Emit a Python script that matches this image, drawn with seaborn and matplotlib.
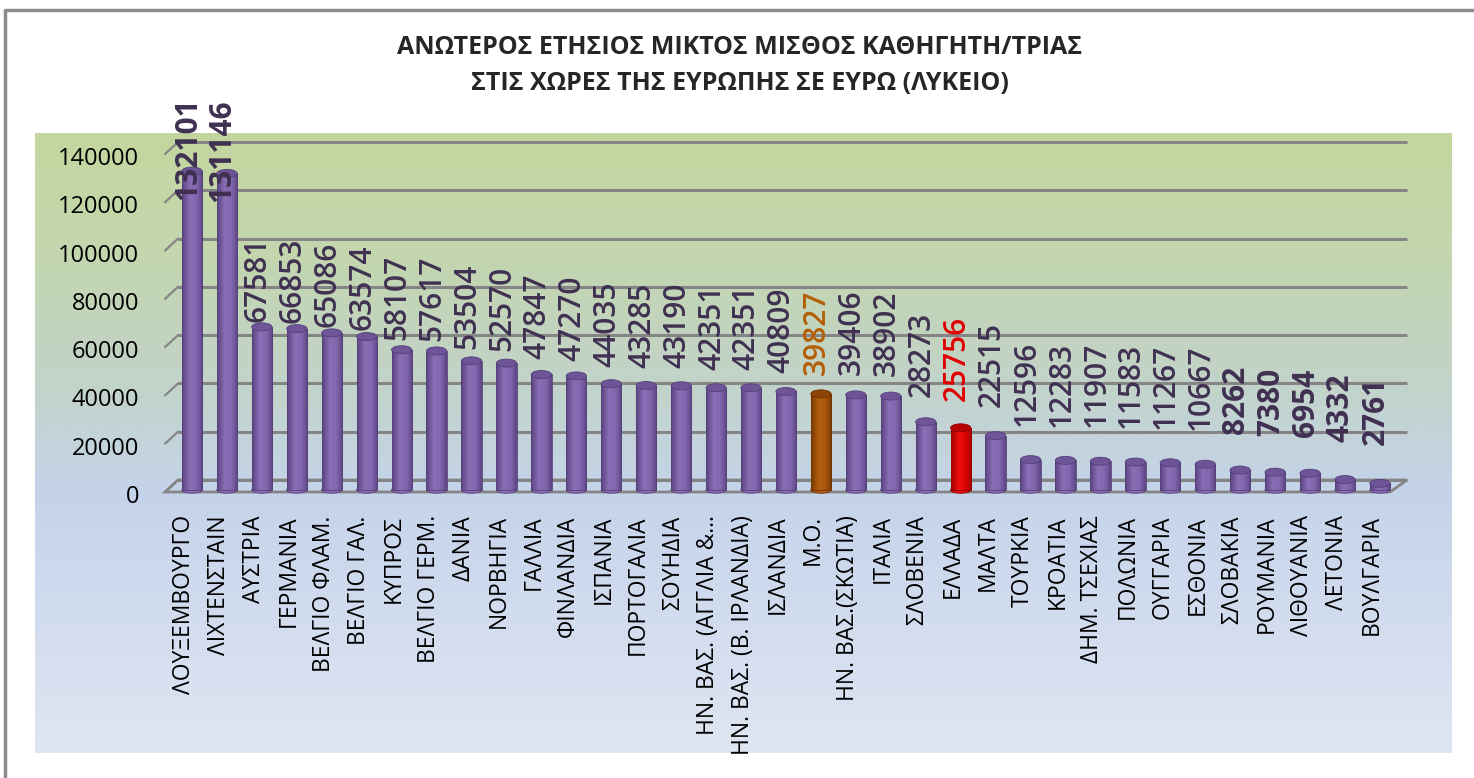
import numpy as np
import seaborn as sns
import matplotlib.pyplot as plt
from matplotlib.patches import Ellipse, Polygon
from matplotlib.colors import LinearSegmentedColormap
from matplotlib.lines import Line2D
import matplotlib.transforms as mtransforms

countries = ['ΛΟΥΞΕΜΒΟΥΡΓΟ', 'ΛΙΧΤΕΝΣΤΑΙΝ', 'ΑΥΣΤΡΙΑ', 'ΓΕΡΜΑΝΙΑ', 'ΒΕΛΓΙΟ ΦΛΑΜ.',
             'ΒΕΛΓΙΟ ΓΑΛ.', 'ΚΥΠΡΟΣ', 'ΒΕΛΓΙΟ ΓΕΡΜ.', 'ΔΑΝΙΑ', 'ΝΟΡΒΗΓΙΑ', 'ΓΑΛΛΙΑ',
             'ΦΙΝΛΑΝΔΙΑ', 'ΙΣΠΑΝΙΑ', 'ΠΟΡΤΟΓΑΛΙΑ', 'ΣΟΥΗΔΙΑ', 'ΗΝ. ΒΑΣ. (ΑΓΓΛΙΑ &...',
             'ΗΝ. ΒΑΣ. (Β. ΙΡΛΑΝΔΙΑ)', 'ΙΣΛΑΝΔΙΑ', 'Μ.Ο.', 'ΗΝ. ΒΑΣ.(ΣΚΩΤΙΑ)', 'ΙΤΑΛΙΑ',
             'ΣΛΟΒΕΝΙΑ', 'ΕΛΛΑΔΑ', 'ΜΑΛΤΑ', 'ΤΟΥΡΚΙΑ', 'ΚΡΟΑΤΙΑ', 'ΔΗΜ. ΤΣΕΧΙΑΣ',
             'ΠΟΛΩΝΙΑ', 'ΟΥΓΓΑΡΙΑ', 'ΕΣΘΟΝΙΑ', 'ΣΛΟΒΑΚΙΑ', 'ΡΟΥΜΑΝΙΑ', 'ΛΙΘΟΥΑΝΙΑ',
             'ΛΕΤΟΝΙΑ', 'ΒΟΥΛΓΑΡΙΑ']
salaries = [132101, 131146, 67581, 66853, 65086, 63574, 58107, 57617, 53504, 52570,
            47847, 47270, 44035, 43285, 43190, 42351, 42351, 40809, 39827, 39406,
            38902, 28273, 25756, 22515, 12596, 12283, 11907, 11583, 11267, 10667,
            8262, 7380, 6954, 4332, 2761]
average_name = 'Μ.Ο.'
greece_name = 'ΕΛΛΑΔΑ'
yticks = [0, 20000, 40000, 60000, 80000, 100000, 120000, 140000]
title1 = 'ΑΝΩΤΕΡΟΣ ΕΤΗΣΙΟΣ ΜΙΚΤΟΣ ΜΙΣΘΟΣ ΚΑΘΗΓΗΤΗ/ΤΡΙΑΣ'
title2 = 'ΣΤΙΣ ΧΩΡΕΣ ΤΗΣ ΕΥΡΩΠΗΣ ΣΕ ΕΥΡΩ (ΛΥΚΕΙΟ)'

sns.set_style('white')
plt.rcParams['font.family'] = ['Open Sans', 'DejaVu Sans']

styles = {
    'country': dict(body=['#5A4480', '#8B6FB6', '#8366AE', '#5C4683'], cap='#6E5597', edge='#54407A', text='#403152'),
    'avg': dict(body=['#7A3A04', '#B5600F', '#A9550A', '#7C3B04'], cap='#8E4405', edge='#6E3303', text='#B45F06'),
    'greece': dict(body=['#A00000', '#EE1010', '#DD0505', '#A30000'], cap='#B80000', edge='#900000', text='#E00000'),
}
kinds = ['avg' if c == average_name else 'greece' if c == greece_name else 'country' for c in countries]
palette = {c: styles[k]['body'][2] for c, k in zip(countries, kinds)}

W, H = 1474, 778
fig = plt.figure(figsize=(W / 100, H / 100), dpi=100)

# plot area background gradient
bg = fig.add_axes([35 / W, (H - 753) / H, (1452 - 35) / W, (753 - 133) / H], zorder=-1)
bg_cmap = LinearSegmentedColormap.from_list('bg', [(0, '#C4D79F'), (0.2, '#C3D6AF'), (0.42, '#C2D3CC'),
                                                   (0.58, '#C5D3EA'), (1, '#DFE6F3')])
bg.imshow(bg_cmap(np.linspace(0, 1, 256))[:, None, :], aspect='auto', extent=[0, 1, 0, 1])
bg.axis('off')

# pixel geometry of the main axes
px_left, px_right, px_top, px_bottom = 160, 1415, 120, 500
zero_px, k = 490, 0.002414
bar0_px, step_px = 192, 34.94
ax = fig.add_axes([px_left / W, (H - px_bottom) / H, (px_right - px_left) / W, (px_bottom - px_top) / H])
ax.set_facecolor('none')

sns.barplot(x=countries, y=salaries, hue=countries, palette=palette, legend=False,
            width=0.58, saturation=1, ax=ax)

u = 1 / k  # data units per pixel
back = 10 * u
xb0, xf0 = (178 - bar0_px) / step_px, (165 - bar0_px) / step_px
xb1, xf1 = (1407 - bar0_px) / step_px, (1390 - bar0_px) / step_px

for g in yticks:
    ax.plot([xb0, xb1], [g + back, g + back], color='#858585', lw=2.2, zorder=0.5, solid_capstyle='butt')
    ax.plot([xf0, xb0], [g - 2 * u, g + back], color='#858585', lw=1.6, zorder=0.5)
ax.add_patch(Polygon([(xf0, -2 * u), (xb0, back), (xb1, back), (xf1, -2 * u)], closed=True,
                     fill=False, edgecolor='#858585', lw=2, zorder=0.6))

cap_h = 8 * u
for p, kind in zip(ax.patches, kinds):
    st = styles[kind]
    x0, w, h = p.get_x(), p.get_width(), p.get_height()
    cmap = LinearSegmentedColormap.from_list('cyl', list(zip([0, 0.38, 0.7, 1], st['body'])))
    im = ax.imshow(cmap(np.linspace(0, 1, 64))[None, :, :], extent=[x0, x0 + w, 0, h],
                   aspect='auto', interpolation='bilinear', zorder=1.5)
    im.set_clip_path(p)
    p.set_facecolor('none')
    p.set_edgecolor(st['edge'])
    p.set_linewidth(0.6)
    p.set_zorder(1.6)
    ax.add_patch(Ellipse((x0 + w / 2, 0), w, cap_h * 0.8, facecolor=st['body'][1],
                         edgecolor=st['edge'], lw=0.6, zorder=1.4))
    ax.add_patch(Ellipse((x0 + w / 2, h), w, cap_h, facecolor=st['cap'],
                         edgecolor=st['edge'], lw=0.6, zorder=1.7))

bold = set(range(2)) | set(range(len(salaries) - 5, len(salaries)))
for i, (v, kind) in enumerate(zip(salaries, kinds)):
    ax.text(i - 0.12, 16560 + 0.784 * v, str(v), rotation=90, ha='center', va='bottom',
            fontsize=21.5, color=styles[kind]['text'],
            fontweight='bold' if i in bold else 'semibold', clip_on=False, zorder=3)

ax.set_xlim((px_left - bar0_px) / step_px, (px_right - bar0_px) / step_px)
ax.set_ylim(-(px_bottom - zero_px) * u, (zero_px - px_top) * u)
ax.set_yticks(yticks)
ax.set_yticklabels([str(t) for t in yticks], fontsize=17, color='black')
ax.tick_params(axis='y', length=0, pad=15)
ax.tick_params(axis='x', length=0, pad=11, labelsize=16.5, labelrotation=90, labelcolor='black')
shift = mtransforms.ScaledTranslation(-8 / 100, 0, fig.dpi_scale_trans)
for lab in ax.get_xticklabels():
    lab.set_transform(lab.get_transform() + shift)
    lab.set_va('top')
for lab in ax.get_yticklabels():
    lab.set_transform(lab.get_transform() + mtransforms.ScaledTranslation(0, -4 / 100, fig.dpi_scale_trans))
ax.set_xlabel('')
ax.set_ylabel('')
sns.despine(ax=ax, left=True, bottom=True)

fig.text(740 / W, 1 - 48 / H, title1, ha='center', va='center', fontsize=18, fontweight='bold')
fig.text(740 / W, 1 - 83 / H, title2, ha='center', va='center', fontsize=18, fontweight='bold')

fig.add_artist(Line2D([5 / W, 5 / W, 1], [0, 1 - 10 / H, 1 - 10 / H], color='#8C8C8C', lw=2.5))

fig.savefig('out.png', dpi=100)
